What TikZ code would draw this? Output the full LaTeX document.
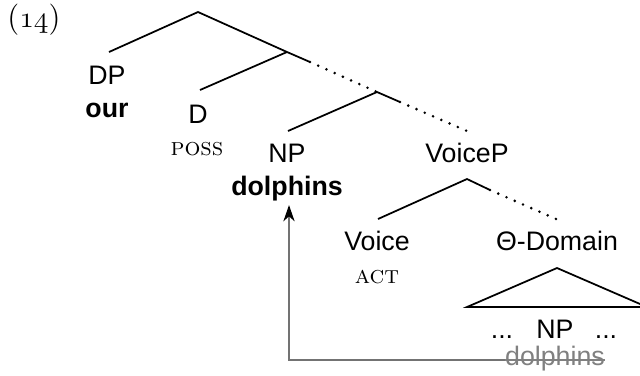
\documentclass[tikz,border=0pt]{standalone}
\usepackage{fontspec}
\setsansfont{Liberation Sans}
\usetikzlibrary{arrows.meta,calc}
\begin{document}
\begin{tikzpicture}[x=0.4pt,y=-0.4pt,
  lbl/.style={font=\sffamily\fontsize{10.7}{12}\selectfont, inner sep=0, anchor=base},
  blbl/.style={inner sep=0, anchor=base, font=\sffamily\bfseries\fontsize{10.7}{12}\selectfont},
  sclbl/.style={inner sep=0, anchor=base, font=\rmfamily\scshape\fontsize{10}{12}\selectfont},
  br/.style={line width=0.7pt},
  dotbr/.style={line width=1.15pt, line cap=round, dash pattern=on 0pt off 3.6pt},
  mvline/.style={line width=0.6pt, draw=black!55, -{Stealth[length=6.5pt,width=4.5pt,inset=2pt,color=black,fill=black]}},
]
\useasboundingbox (0,0) rectangle (640,375);
\clip (0,0) rectangle (640,375);

% example number
\node[inner sep=0, anchor=base, font=\fontsize{12.5}{14}\selectfont] (ex) at (34,27)
  {{\rmfamily(}{\usefont{OML}{cmm}{m}{it}14}{\rmfamily)}};

% tree points
\coordinate (top) at (198,12);
\coordinate (dpT) at (109,52);
\coordinate (b1) at (287,52);
\coordinate (b1s) at (310,62);
\coordinate (dT) at (200,90);
\coordinate (b2) at (377,92);
\coordinate (b2s) at (400,102);
\coordinate (npT) at (288,131);
\coordinate (vpT) at (467,131);
\coordinate (vpB) at (467,179);
\coordinate (vpBs) at (490,190);
\coordinate (vT) at (378,219);
\coordinate (thT) at (556,219);
\coordinate (triA) at (557,268);
\coordinate (triL) at (467,307);
\coordinate (triR) at (647,307);

% labels
\node[lbl] (dp) at (107,84) {DP};
\node[blbl] (our) at (107,117) {our};
\node[lbl] (d) at (198,123) {D};
\node[sclbl] (poss) at (197,155) {poss};
\node[lbl] (np) at (287,162) {NP};
\node[blbl] (npd) at (287,195) {dolphins};
\node[lbl] (vp) at (467,162) {VoiceP};
\node[lbl] (v) at (377,250) {Voice};
\node[sclbl] (act) at (377,283) {act};
\node[lbl] (th) at (557,250) {Θ-Domain};
\node[lbl] (np2) at (555,338) {NP};
\node[lbl] (dl) at (502,338) {...};
\node[lbl] (dr) at (606,338) {...};
\node[lbl, text=black!50] (dg) at (555,365) {dolphins};

% branches
\draw[br] (dpT) -- (top) -- (b1) -- (b1s);
\draw[dotbr] (b1s) -- (b2);
\draw[br] (b1) -- (dT);
\draw[br] (npT) -- (b2) -- (b2s);
\draw[dotbr] (b2s) -- (vpT);
\draw[br] (vT) -- (vpB) -- (vpBs);
\draw[dotbr] (vpBs) -- (thT);
\draw[br] (triA) -- (triL) -- (triR) -- cycle;

% strike-through of the lower copy
\coordinate (sL) at ($(dg.base west)+(0,-5)$);
\coordinate (sR) at ($(dg.base east)+(0,-5)$);
\draw[line width=0.8pt, black!50] (sL) -- (sR);

% movement arrow
\coordinate (tip) at ($(npd.south)+(2,4)$);
\draw[mvline] (sL) -| (tip);
\end{tikzpicture}
\end{document}
